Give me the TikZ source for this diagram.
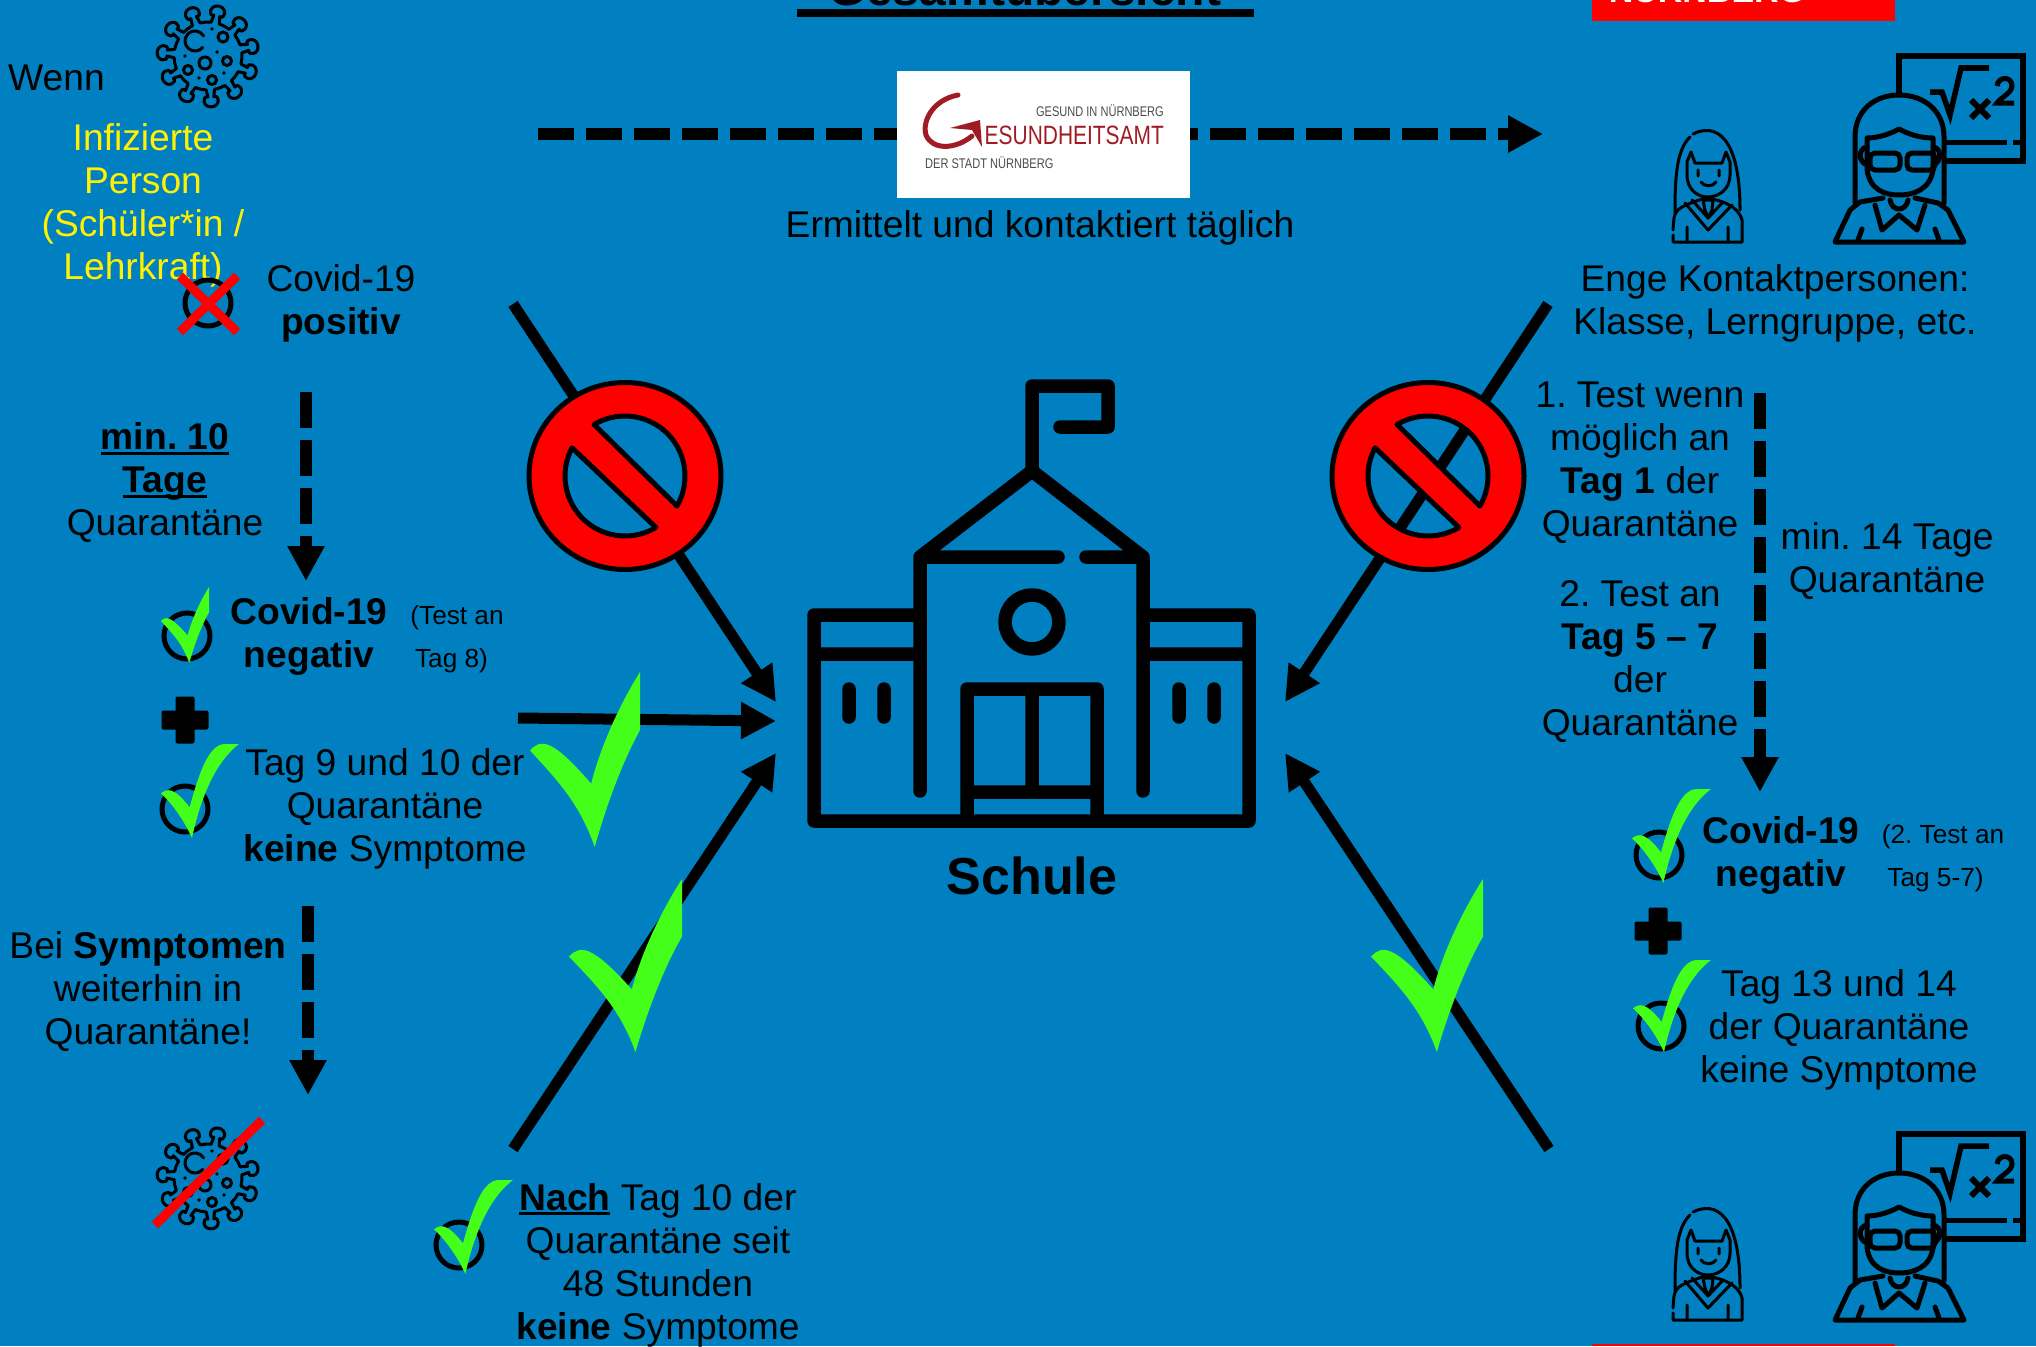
\documentclass[tikz,border=0pt]{standalone}
\usepackage{fontspec}
\setmainfont{Liberation Sans}
\usetikzlibrary{arrows.meta}
\definecolor{schoolblue}{RGB}{0,127,193}
\definecolor{tickgreen}{RGB}{68,255,26}
\definecolor{logored}{RGB}{160,28,36}
\newcommand{\thickul}[1]{\leavevmode\setbox0=\hbox{\textbf{#1}}\rlap{\copy0}\rule[-5pt]{\wd0}{3pt}}
\frenchspacing
\tikzset{
    %Define standard arrow tip
    >={Triangle[length=35pt,width=35pt]},
    infotext/.style={
      align=center,
      inner sep=0pt,
      font=\fontsize{37.2}{43}\selectfont},
    smalltext/.style={
      align=center,
      inner sep=0pt,
      font=\fontsize{26.2}{43}\selectfont},
    logotext/.style={
      inner sep=0pt,
      xscale=.79,
      transform shape},
    pfeil/.style={->, line width=11pt},
    dashpfeil/.style={->, line width=12pt, dash pattern=on 36pt off 12pt},
    ringmark/.style={draw=black, line width=5pt},
    redbar/.style={draw=red, line width=9pt},
    iconline/.style={draw=black, line cap=round, line join=round},
    pics/tick/.style 2 args={code={
      \fill[tickgreen, x=#1pt, y=-#2pt] (0,.525) .. controls (.08,.47) and (.17,.46) .. (.367,.674)
        .. controls (.47,.36) and (.6,0) .. (.82,0) -- (1,0)
        .. controls (.78,.14) and (.55,.42) .. (.397,1)
        .. controls (.3,.82) and (.15,.64) .. cycle;
    }},
    pics/tickcut/.style 2 args={code={
      \fill[tickgreen, x=#1pt, y=-#2pt] (0,.448) .. controls (.1,.38) and (.2,.38) .. (.556,.638)
        .. controls (.65,.40) and (.85,.15) .. (1,0) -- (1,.333)
        .. controls (.85,.5) and (.7,.75) .. (.588,1)
        .. controls (.45,.75) and (.25,.62) .. cycle;
    }},
    nosign/.pic={
      \path[fill=#1] (-121:60) arc (-121:30:60) -- cycle
        (59:60) arc (59:208:60) -- cycle;
      \filldraw[fill=red, draw=black, line width=5pt, line join=round, even odd rule]
        (0,0) circle [x radius=96, y radius=93.5]
        (-121:60) arc (-121:30:60) -- cycle
        (59:60) arc (59:208:60) -- cycle;
    },
    plusmark/.pic={
      \fill[black, rounded corners=2pt] (-23.5,-9.5) rectangle (23.5,9.5);
      \fill[black, rounded corners=2pt] (-9.5,-23.5) rectangle (9.5,23.5);
    },
    virus/.pic={
      \foreach \n in {0,...,10}
        \draw[iconline, line width=3pt, rotate={-86+\n*32.73}] (-7:34) -- (41,-3)
          .. controls (39,-9) and (51,-9) .. (51,0)
          .. controls (51,9) and (39,9) .. (41,3) -- (7:34) arc (7:25.73:34);
      \draw[iconline, line width=3pt] (-13,-15) ++(40:10) arc (40:330:10);
      \draw[iconline, line width=3pt] (15,-19) circle (5) (-3,7) circle (6)
        (19,5) circle (4.5) (-20,14) circle (4.5) (4,24) circle (4.5);
      \fill (4,-27) circle (1.8) (9,-4) circle (1.8) (-23,0) circle (1.8)
        (-9,22) circle (1.8) (16,17) circle (1.8);
    },
    contacts/.pic={
      % pupil
      \draw[iconline, line width=3pt] (55,173) .. controls (55,140) and (56,110) .. (70,97);
      \draw[iconline, line width=3pt] (73,94) .. controls (95,83) and (120,95) .. (120,170);
      \draw[iconline, line width=3pt] (71,112) -- (75,123) -- (102,123) -- (106,112)
        -- (110,122) -- (110,135) .. controls (110,150) and (98,157) .. (88,157)
        .. controls (78,157) and (67,150) .. (67,135) -- (67,122) -- cycle;
      \draw[iconline, line width=3pt] (78,130) -- (78,136) (99,130) -- (99,136)
        (81,142) .. controls (84,147) and (93,147) .. (96,142);
      \draw[iconline, line width=3pt] (53,190) -- (54,178) .. controls (56,168) and (62,166) .. (85,158)
        .. controls (100,160) and (118,165) .. (122,180) -- (122,202) -- (53,202) -- (53,195);
      \draw[iconline, line width=3pt] (65,163) -- (88,190) -- (112,165)
        (72,160) -- (88,178) -- (103,162)
        (83,160) -- (93,160) -- (92,170) -- (88,178) -- (85,170) -- cycle
        (67,187) -- (67,202) (108,187) -- (108,202);
      % teacher
      \draw[black, line width=6pt] (279,53) -- (279,16) -- (403,16) -- (403,121) -- (325,121);
      \draw[black, line width=5pt] (325,102) -- (387,102) (393,102) -- (400,102);
      \draw[black, line width=5.5pt] (310,52) -- (322,52) -- (330,75) -- (341,28) -- (369,28);
      \draw[black, line width=6pt] (351,60) -- (369,78) (369,60) -- (351,78);
      \draw[black, line width=5pt] (377,46) .. controls (378,36) and (392,36) .. (392,46)
        .. controls (392,53) and (380,58) .. (377,63) -- (394,63);
      \draw[iconline, line width=5pt] (235,163) -- (235,97) .. controls (235,70) and (255,55) .. (279,55)
        .. controls (303,55) and (324,70) .. (324,97) -- (324,163);
      \draw[iconline, line width=5pt] (247,98) -- (247,130) .. controls (250,150) and (265,155) .. (279,155)
        .. controls (293,155) and (310,150) .. (313,130) -- (313,98)
        .. controls (300,98) and (288,94) .. (279,89)
        .. controls (270,94) and (258,98) .. (247,98) -- cycle;
      \draw[black, line width=5pt, rounded corners=5pt] (250,113) rectangle (280,130);
      \draw[black, line width=5pt, rounded corners=5pt] (287,113) rectangle (315,130);
      \draw[iconline, line width=5pt] (247,107) .. controls (238,108) and (238,122) .. (247,125)
        (313,107) .. controls (322,108) and (322,122) .. (313,125);
      \draw[iconline, line width=5pt] (263,158) -- (240,162) -- (230,170) -- (215,202) -- (344,202)
        -- (328,170) -- (318,163) -- (295,158);
      \draw[iconline, line width=5pt] (270,160) .. controls (272,172) and (286,172) .. (288,160)
        (255,165) -- (262,190) -- (279,175) -- (297,190) -- (305,165)
        (242,189) -- (238,200) (315,189) -- (319,200);
    },
    school/.pic={
      \draw[iconline, line width=13.5pt] (1060,427) -- (1108,427) -- (1108,386) -- (1032,386) -- (1032,471)
        (920,791) -- (920,557) -- (1032,471) -- (1143,557) -- (1143,791)
        (920,557) -- (1058,557) (1086,557) -- (1143,557)
        (920,615) -- (814,615) -- (814,821) -- (1249,821) -- (1249,615) -- (1143,615)
        (814,654) -- (920,654) (1143,654) -- (1249,654)
        (849,689) -- (849,717) (884,689) -- (884,717)
        (1179,689) -- (1179,717) (1214,689) -- (1214,717)
        (967,821) -- (967,689) -- (1097,689) -- (1097,821)
        (1032,689) -- (1032,792) (967,792) -- (1097,792);
      \draw[iconline, line width=13.5pt] (1032,622) circle (27);
    }
}
\begin{document}
\begin{tikzpicture}[x=1pt,y=-1pt]
\useasboundingbox (0,0) rectangle (2036,1346);
\fill[schoolblue] (0,0) rectangle (2036,1346);

% title and red tabs
\node [anchor=base, inner sep=0pt, font=\fontsize{48}{50}\selectfont\bfseries] (title) at (1025,6) {Gesamtübersicht};
\fill[black] (797,9) rectangle (1254,17);
\fill[red] (1592,0) rectangle (1895,21);
\fill[red] (1592,1344) rectangle (1895,1346);
\node [anchor=base, inner sep=0pt, text=white, font=\fontsize{34}{36}\selectfont\bfseries] (city) at (1707,3) {NÜRNBERG};

% end points of the connectors
\coordinate (elimstart) at (538,134);
\coordinate (elimtip) at (1543,134);
\coordinate (posstart) at (513,304);
\coordinate (postip) at (776,702);
\coordinate (negstart) at (518,718);
\coordinate (negtip) at (776,721);
\coordinate (nachstart) at (513,1149);
\coordinate (nachtip) at (776,753);
\coordinate (engestart) at (1548,304);
\coordinate (engetip) at (1285,702);
\coordinate (endstart) at (1549,1149);
\coordinate (endtip) at (1285,753);
\coordinate (minstart) at (306,392);
\coordinate (mintip) at (306,581);
\coordinate (symstart) at (308,906);
\coordinate (symtip) at (308,1095);
\coordinate (testhead) at (1760,393);
\coordinate (testtip) at (1760,792);

\draw[dashpfeil] (elimstart) -- (elimtip);
\draw[dashpfeil] (minstart) -- (mintip);
\draw[dashpfeil] (symstart) -- (symtip);
\draw[dashpfeil] (testhead) -- (testtip);
\draw[pfeil] (posstart) -- (postip);
\draw[pfeil] (negstart) -- (negtip);
\draw[pfeil] (nachstart) -- (nachtip);
\draw[pfeil] (engestart) -- (engetip);
\draw[pfeil] (endstart) -- (endtip);

% health office logo
\fill[white] (897,71) rectangle (1190,198);
\draw[logored, line width=5pt, line cap=round] (958,95) .. controls (932,100) and (922,122) .. (926,135)
  .. controls (932,150) and (955,150) .. (972,136);
\fill[logored] (950,128) -- (980,120) -- (982,147) -- (972,130) -- cycle;
\node [logotext, anchor=east, text=black!70, font=\fontsize{14}{14}\selectfont] (logotop) at (1164,111) {GESUND IN NÜRNBERG};
\node [logotext, anchor=east, text=logored, font=\fontsize{26.5}{27}\selectfont] (logomid) at (1164,135) {ESUNDHEITSAMT};
\node [logotext, anchor=west, text=black!70, font=\fontsize{14}{14}\selectfont] (logobot) at (925,163) {DER STADT NÜRNBERG};

\pic at (625,476) {nosign=schoolblue};
\pic at (1428,476) {nosign=none};
\pic at (0,0) {school};
\node [inner sep=0pt, font=\fontsize{52}{54}\selectfont\bfseries] (schule) at (1032,876) {Schule};

% left column
\node [infotext, anchor=west] (wenn) at (8,78) {Wenn};
\pic at (208,56) {virus};
\node [infotext, text=yellow] (infected) at (143,205) {Infizierte\\Person\\(Schüler*in /\\Lehrkraft)};
\draw[ringmark] (208,303) circle (23);
\draw[redbar] (180,276) -- (237,332);
\draw[redbar] (237,276) -- (180,332);
\node [infotext] (positiv) at (341,303) {Covid-19\\\textbf{positiv}};
\node [infotext] (minten) at (165,483) {\thickul{min. 10}\\\thickul{Tage}\\Quarantäne};
\draw[ringmark] (187,636) circle (23);
\pic at (161,587) {tickcut={48}{76}};
\node [infotext] (negleft) at (309,636) {\textbf{Covid-19}\\\textbf{negativ}};
\node [smalltext] (testeight) at (457,639) {(Test an\\Tag 8)\hspace*{11pt}};
\pic at (185,720) {plusmark};
\draw[ringmark] (185,809) circle (23);
\pic at (161,744) {tick={78}{94}};
\node [infotext] (daynine) at (385,809) {Tag 9 und 10 der\\Quarantäne\\\textbf{keine} Symptome};
\pic at (530,672) {tickcut={110}{175}};
\node [infotext] (symptoms) at (148,992) {Bei \textbf{Symptomen}\\weiterhin in\\Quarantäne!};
\pic at (208,1178) {virus};
\draw[redbar] (155,1225) -- (262,1120);

% bottom middle
\pic at (569,879) {tickcut={113}{173}};
\draw[ringmark] (459,1245) circle (23);
\pic at (434,1180) {tick={79}{94}};
\node [infotext] (nachten) at (658,1265) {\thickul{Nach} Tag 10 der\\Quarantäne seit\\48 Stunden\\\textbf{keine} Symptome};

% top middle
\node [infotext] (ermittelt) at (1040,228) {Ermittelt und kontaktiert täglich};

% right column
\pic at (1620,40) {contacts};
\pic at (1620,1118) {contacts};
\node [infotext] (enge) at (1775,303) {Enge Kontaktpersonen:\\Klasse, Lerngruppe, etc.};
\node [infotext] (testone) at (1640,463) {1. Test wenn\\möglich an\\\textbf{Tag 1} der\\Quarantäne};
\node [infotext] (testtwo) at (1640,662) {2. Test an\\\textbf{Tag 5 – 7}\\der\\Quarantäne};
\node [infotext] (minfourteen) at (1887,561) {min. 14 Tage\\Quarantäne};
\draw[ringmark] (1659,855) circle (23);
\pic at (1632,789) {tick={79}{94}};
\node [infotext] (negright) at (1781,855) {\textbf{Covid-19}\\\textbf{negativ}};
\node [smalltext] (testfive) at (1943,858) {(2. Test an\\Tag 5-7)\hspace*{15pt}};
\pic at (1658,931) {plusmark};
\draw[ringmark] (1661,1026) circle (23);
\pic at (1633,960) {tick={78}{92}};
\node [infotext] (daythirteen) at (1839,1030) {Tag 13 und 14\\der Quarantäne\\keine Symptome};
\pic at (1371,879) {tickcut={112}{173}};
\end{tikzpicture}
\end{document}
